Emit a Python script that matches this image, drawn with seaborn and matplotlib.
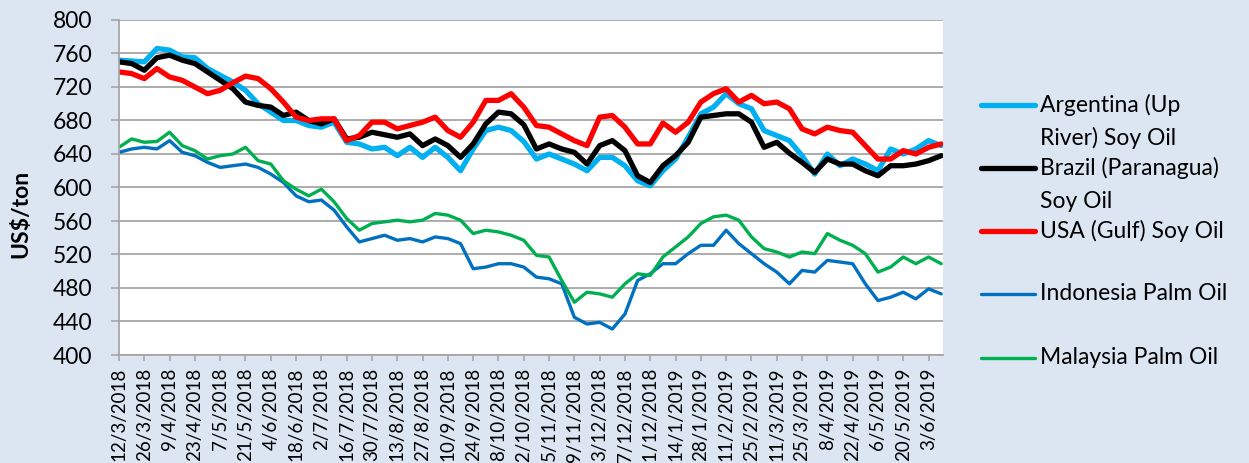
import matplotlib
matplotlib.use("Agg")
import matplotlib.pyplot as plt
import seaborn as sns
import pandas as pd
from matplotlib.lines import Line2D

# ---------------- data (weekly readings, US$/ton) ----------------
start = pd.Timestamp("2018-03-12")
dates = pd.date_range(start, periods=66, freq="7D")

argentina = [752, 751, 750, 766, 764, 756, 755, 742, 734, 726, 716, 700,
             690, 680, 680, 674, 672, 678, 654, 652, 646, 648,
             638, 648, 636, 648, 636, 620, 646, 668, 672, 668, 655,
             634, 640, 634, 628, 620, 636, 636, 626, 608, 602, 620,
             634, 660, 688, 696, 712, 700, 694, 668, 662, 656,
             638, 616, 640, 626, 634, 628, 620, 646, 640, 646, 656, 650]
brazil = [750, 748, 740, 755, 758, 752, 748, 738, 728, 718, 702, 698,
          696, 686, 690, 680, 676, 682, 658, 660, 666, 663,
          660, 664, 650, 658, 650, 636, 652, 676, 690, 688, 675,
          646, 652, 646, 642, 628, 650, 656, 644, 614, 606, 626,
          638, 654, 684, 686, 688, 688, 678, 648, 654, 641,
          630, 618, 634, 628, 628, 620, 614, 626, 626, 628, 632, 638]
usa = [738, 736, 730, 742, 732, 728, 720, 712, 716, 725, 733, 730,
       718, 702, 684, 680, 682, 682, 656, 662, 678, 678,
       670, 674, 678, 684, 668, 660, 678, 704, 704, 712, 696,
       674, 672, 664, 656, 650, 684, 686, 672, 652, 652, 677,
       666, 678, 702, 712, 718, 702, 710, 700, 702, 694,
       670, 664, 672, 668, 666, 650, 634, 634, 644, 640, 648, 652]
indonesia = [642, 646, 648, 646, 656, 642, 638, 630, 624, 626, 628, 624,
             616, 606, 590, 583, 585, 573, 553, 535, 539, 543,
             537, 539, 535, 541, 539, 533, 503, 505, 509, 509, 505,
             493, 491, 485, 445, 437, 439, 431, 449, 489, 497, 509,
             509, 521, 531, 531, 549, 533, 521, 509, 499, 485,
             501, 499, 513, 511, 509, 485, 465, 469, 475, 467, 479, 473]
malaysia = [648, 658, 654, 655, 666, 650, 644, 634, 638, 640, 648, 632,
            628, 608, 598, 590, 598, 583, 563, 549, 557, 559,
            561, 559, 561, 569, 567, 561, 545, 549, 547, 543, 537,
            519, 517, 489, 463, 475, 473, 469, 485, 497, 495, 517,
            529, 541, 557, 565, 567, 561, 541, 527, 523, 517,
            523, 521, 545, 537, 531, 521, 499, 505, 517, 509, 517, 509]

series_values = [argentina, brazil, usa, indonesia, malaysia]
legend_lines = [["Argentina (Up", "River) Soy Oil"],
                ["Brazil (Paranagua)", "Soy Oil"],
                ["USA (Gulf) Soy Oil"],
                ["Indonesia Palm Oil"],
                ["Malaysia Palm Oil"]]
colors = ["#00B0F0", "#000000", "#FF0000", "#0070C0", "#00B050"]
widths = [3.8, 3.8, 3.8, 2.4, 2.4]

y_ticks = list(range(400, 801, 40))
tick_dates = pd.date_range(start, "2019-06-03", freq="14D")
tick_labels = [f"{d.day}/{d.month}/{d.year}" for d in tick_dates]

# ---------------- style ----------------
BG = "#DCE6F2"
GRID = "#A6A6A6"
sns.set_theme(style="white")
plt.rcParams["font.family"] = ["Lato", "DejaVu Sans"]
plt.rcParams["lines.solid_capstyle"] = "round"
plt.rcParams["lines.solid_joinstyle"] = "round"

W, H = 1249, 463
fig = plt.figure(figsize=(W / 100, H / 100), dpi=100, facecolor=BG)
L, R, T, B = 119, 943, 20, 355
ax = fig.add_axes([L / W, 1 - B / H, (R - L) / W, (B - T) / H])
ax.set_facecolor("white")

for vals, c, lw in zip(series_values, colors, widths):
    sns.lineplot(x=dates, y=vals, color=c, linewidth=lw, ax=ax,
                 legend=False, estimator=None)

ax.set_xlim(start, start + pd.Timedelta(days=456))
ax.set_ylim(400, 800)
ax.set_yticks(y_ticks)
ax.set_yticklabels([str(v) for v in y_ticks], fontsize=16.5, color="black")
ax.set_xticks(tick_dates)
ax.set_xticklabels(tick_labels, rotation=90, fontsize=13.5, color="black",
                   va="top", ha="center")
ax.set_xlabel("")
ax.set_ylabel("")

ax.yaxis.grid(True, color=GRID, linewidth=1.3)
ax.xaxis.grid(False)
ax.set_axisbelow(True)
for s in ["top", "right"]:
    ax.spines[s].set_visible(False)
for s in ["left", "bottom"]:
    ax.spines[s].set_color(GRID)
    ax.spines[s].set_linewidth(1.3)
ax.tick_params(axis="y", left=True, direction="out", length=6, width=1.2,
               color=GRID, pad=13)
ax.tick_params(axis="x", bottom=True, direction="out", length=4, width=1.2,
               color=GRID, pad=5)

fig.text(21 / W, 1 - 214 / H, "US$/ton", rotation=90, ha="center",
         va="center", fontsize=16.5, fontweight="bold", color="black")

# ---------------- legend (Excel style, handle beside first line) ----------------
first_y = [105, 168, 231, 294, 358]
for lines, c, lw, y0 in zip(legend_lines, colors, widths, first_y):
    fig.add_artist(Line2D([981 / W, 1035 / W], [1 - y0 / H, 1 - y0 / H],
                          color=c, linewidth=lw, solid_capstyle="round",
                          transform=fig.transFigure))
    for i, txt in enumerate(lines):
        fig.text(1040 / W, 1 - (y0 + 33 * i) / H, txt, ha="left",
                 va="center", fontsize=16.5, color="black")

fig.savefig("out.png", dpi=100, facecolor=BG)
